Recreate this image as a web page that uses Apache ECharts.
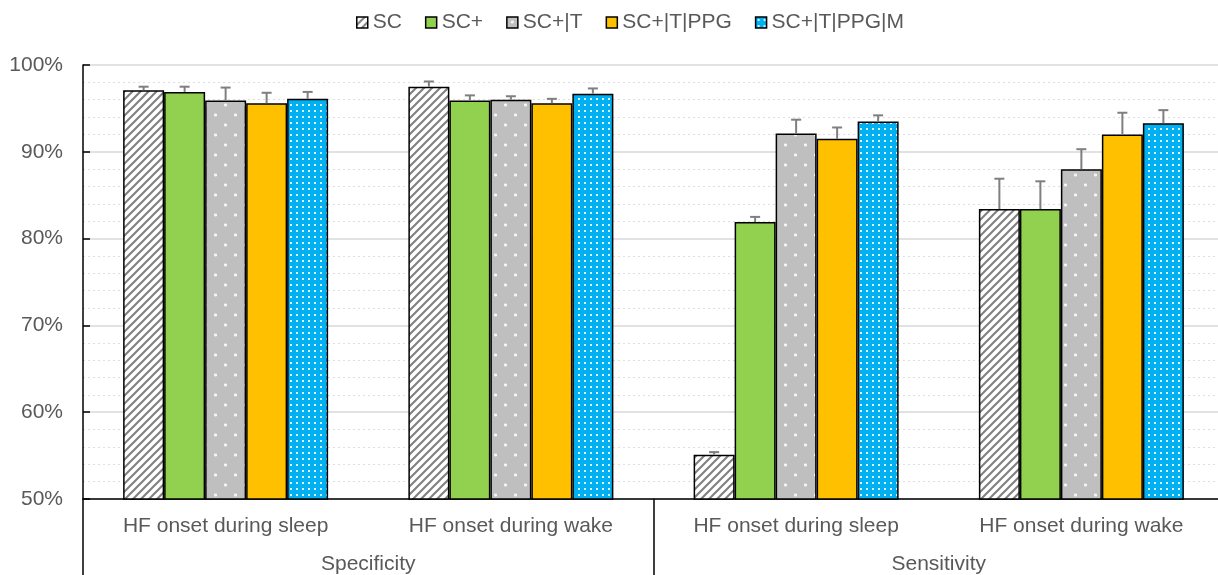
<!DOCTYPE html>
<html>
<head>
<meta charset="utf-8">
<script src="https://cdn.jsdelivr.net/npm/echarts@6/dist/echarts.min.js"></script>
<style>html,body{margin:0;padding:0;background:#fff;overflow:hidden}#c{width:1232px;height:575px}</style>
</head>
<body>
<div id="c"></div>
<script>
// ---- data ----
var subCategories = ['HF onset during sleep', 'HF onset during wake', 'HF onset during sleep', 'HF onset during wake'];
var groupCategories = ['Specificity', 'Sensitivity'];
var seriesNames = ['SC', 'SC+', 'SC+|T', 'SC+|T|PPG', 'SC+|T|PPG|M'];
var valSC      = [97.1, 97.5, 55.1, 83.4];
var valSCp     = [96.9, 95.9, 81.9, 83.4];
var valSCT     = [95.9, 96.0, 92.1, 88.0];
var valSCTPPG  = [95.6, 95.6, 91.5, 92.0];
var valSCTPPGM = [96.1, 96.7, 93.5, 93.3];
var errSC      = [0.4, 0.6, 0.3, 3.5];
var errSCp     = [0.6, 0.6, 0.6, 3.2];
var errSCT     = [1.5, 0.4, 1.6, 2.3];
var errSCTPPG  = [1.2, 0.5, 1.3, 2.5];
var errSCTPPGM = [0.8, 0.6, 0.7, 1.5];
var yTicks = [50, 60, 70, 80, 90, 100];

var values = [valSC, valSCp, valSCT, valSCTPPG, valSCTPPGM];
var errors = [errSC, errSCp, errSCT, errSCTPPG, errSCTPPGM];

// ---- patterns ----
function mk(w, h, draw) {
  var c = document.createElement('canvas'); c.width = w; c.height = h;
  var ctx = c.getContext('2d'); draw(ctx, w, h); return c;
}
var hatch = mk(8, 8, function (ctx, w, h) {
  ctx.fillStyle = '#ffffff'; ctx.fillRect(0, 0, w, h);
  ctx.strokeStyle = '#7f7f7f'; ctx.lineWidth = 2;
  ctx.beginPath();
  ctx.moveTo(-2, 10); ctx.lineTo(10, -2);
  ctx.moveTo(-6, 6); ctx.lineTo(6, -6);
  ctx.moveTo(2, 14); ctx.lineTo(14, 2);
  ctx.stroke();
});
var grayDots = mk(20, 20, function (ctx, w, h) {
  ctx.fillStyle = '#bfbfbf'; ctx.fillRect(0, 0, w, h);
  ctx.fillStyle = '#f4f4f4';
  ctx.fillRect(4, 4, 3, 2); ctx.fillRect(4.5, 3.5, 2, 3);
  ctx.fillRect(14, 14, 3, 2); ctx.fillRect(14.5, 13.5, 2, 3);
});
var blueDots = mk(6, 6, function (ctx, w, h) {
  ctx.fillStyle = '#00b0f0'; ctx.fillRect(0, 0, w, h);
  ctx.fillStyle = '#dff4fd';
  ctx.fillRect(2, 2, 2, 2);
});
var fills = [
  { image: hatch, repeat: 'repeat' },
  '#92d050',
  { image: grayDots, repeat: 'repeat' },
  '#ffc000',
  { image: blueDots, repeat: 'repeat' }
];

var FONT = 'Liberation Sans, Arial, sans-serif';
var TXT = '#595959';
var FS = 21;
var BARW = 41;

var series = seriesNames.map(function (n, i) {
  return {
    name: n, type: 'bar', xAxisIndex: 0, data: values[i],
    barWidth: BARW, barGap: '0%',
    itemStyle: { color: fills[i], borderColor: '#000', borderWidth: 1.5 },
    emphasis: { disabled: true }
  };
});

var errData = [];
for (var s = 0; s < values.length; s++) {
  for (var k = 0; k < values[s].length; k++) {
    errData.push([k, s, values[s][k], values[s][k] + errors[s][k]]);
  }
}
series.push({
  type: 'custom', xAxisIndex: 0, z: 5, silent: true,
  encode: { x: 0, y: 3 },
  data: errData,
  renderItem: function (params, api) {
    var cat = api.value(0), si = api.value(1);
    var p0 = api.coord([cat, api.value(2)]);
    var p1 = api.coord([cat, api.value(3)]);
    var x = p0[0] + (si - 2) * BARW;
    var st = { stroke: '#7f7f7f', lineWidth: 2 };
    return {
      type: 'group',
      children: [
        { type: 'line', shape: { x1: x, y1: p0[1], x2: x, y2: p1[1] }, style: st },
        { type: 'line', shape: { x1: x - 5, y1: p1[1], x2: x + 5, y2: p1[1] }, style: st }
      ]
    };
  }
});

var chart = echarts.init(document.getElementById('c'), null, { renderer: 'canvas' });
chart.setOption({
  animation: false,
  textStyle: { fontFamily: FONT },
  legend: {
    data: seriesNames, top: 7, left: 351, icon: 'rect',
    itemWidth: 11, itemHeight: 11, itemGap: 23,
    itemStyle: { borderColor: '#000', borderWidth: 1.5 },
    textStyle: { fontSize: FS, color: TXT, fontFamily: FONT }
  },
  grid: { left: 83, top: 65, width: 1141, bottom: 76, containLabel: false },
  xAxis: [
    {
      type: 'category', data: subCategories, position: 'bottom',
      axisLine: { lineStyle: { color: '#000', width: 1.5 } },
      axisTick: { show: false },
      axisLabel: { fontSize: FS, color: TXT, margin: 17, fontFamily: FONT, interval: 0 },
      splitLine: { show: false }
    },
    {
      type: 'category', data: groupCategories, position: 'bottom',
      axisLine: { show: false },
      axisTick: { show: true, length: 78, lineStyle: { color: '#000', width: 1.5 } },
      axisLabel: { fontSize: FS, color: TXT, margin: 55, fontFamily: FONT },
      splitLine: { show: false }
    }
  ],
  yAxis: {
    type: 'value', min: yTicks[0], max: yTicks[yTicks.length - 1], interval: 10,
    axisLine: { show: true, lineStyle: { color: '#000', width: 1.5 } },
    axisTick: { show: true, inside: true, length: 7, lineStyle: { color: '#000', width: 1.5 } },
    axisLabel: { fontSize: FS, color: TXT, margin: 20, fontFamily: FONT, formatter: '{value}%' },
    splitLine: { show: true, lineStyle: { color: '#d9d9d9', width: 1.5 } },
    minorTick: { show: false, splitNumber: 5 },
    minorSplitLine: { show: true, lineStyle: { color: '#dedede', width: 1.2, type: [2, 3] } }
  },
  series: series
});
</script>
</body>
</html>
